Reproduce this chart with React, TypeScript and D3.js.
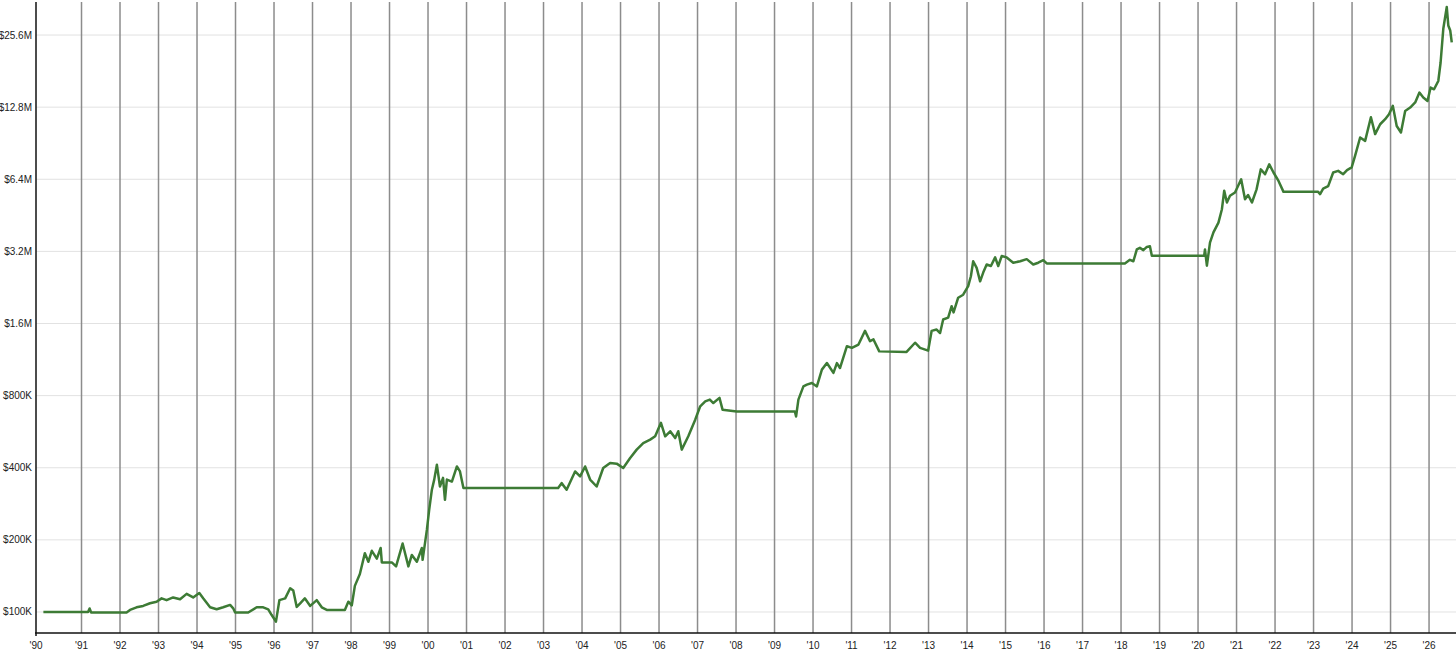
import * as React from 'react';
import * as d3 from 'd3';

// portfolio value in $K: [decimal year, value]
const equity: Array<[number, number]> = [
    [1990.01, 100], [1991.17, 100], [1991.21, 103.4], [1991.25, 99.5], [1992.17, 99.5],
    [1992.26, 102], [1992.43, 104.6], [1992.6, 106], [1992.78, 108.7], [1992.95, 110.4],
    [1993.08, 114], [1993.21, 112], [1993.38, 115], [1993.56, 113], [1993.73, 119],
    [1993.9, 115], [1994.06, 120], [1994.16, 114], [1994.34, 104.6], [1994.51, 102.6],
    [1994.68, 104.6], [1994.86, 107], [1994.94, 103.6], [1994.99, 99.5], [1995.33, 99.5],
    [1995.55, 104.6], [1995.72, 104.6], [1995.85, 102.6], [1995.94, 97.1], [1996.05, 91.1],
    [1996.14, 112], [1996.29, 114], [1996.42, 125.6], [1996.5, 122.8], [1996.59, 105],
    [1996.68, 108.7], [1996.8, 114], [1996.94, 106], [1997.11, 112], [1997.24, 104.6],
    [1997.37, 102], [1997.84, 102], [1997.93, 110.4], [1998.02, 106.5], [1998.1, 128.5],
    [1998.23, 144], [1998.36, 176], [1998.45, 162], [1998.54, 180], [1998.67, 167],
    [1998.77, 185], [1998.8, 161], [1999.06, 161], [1999.17, 155], [1999.34, 193],
    [1999.49, 155], [1999.58, 173], [1999.71, 162], [1999.84, 185], [1999.86, 165],
    [1999.97, 220], [2000.03, 267], [2000.1, 324], [2000.16, 356], [2000.23, 412],
    [2000.31, 334], [2000.39, 363], [2000.44, 294], [2000.49, 357], [2000.62, 350],
    [2000.75, 405], [2000.83, 386], [2000.92, 329], [2003.38, 329], [2003.47, 345],
    [2003.6, 324], [2003.82, 386], [2003.95, 368], [2004.08, 405], [2004.21, 357],
    [2004.38, 334], [2004.55, 399], [2004.73, 419], [2004.9, 416], [2005.07, 399],
    [2005.25, 439], [2005.42, 476], [2005.59, 507], [2005.77, 524], [2005.9, 541],
    [2006.05, 616], [2006.16, 541], [2006.29, 568], [2006.42, 532], [2006.5, 568],
    [2006.59, 476], [2006.76, 541], [2006.94, 635], [2007.07, 722], [2007.2, 757],
    [2007.32, 770], [2007.41, 745], [2007.57, 783], [2007.65, 699], [2008.02, 687],
    [2009.53, 686], [2009.56, 655], [2009.62, 770], [2009.75, 874], [2009.84, 889],
    [2009.97, 903], [2010.1, 874], [2010.23, 1027], [2010.36, 1094], [2010.53, 995],
    [2010.62, 1094], [2010.7, 1043], [2010.88, 1286], [2011.01, 1266], [2011.18, 1307],
    [2011.35, 1490], [2011.48, 1350], [2011.57, 1373], [2011.72, 1224], [2012.43, 1218],
    [2012.65, 1330], [2012.78, 1266], [2012.99, 1233], [2013.08, 1490], [2013.21, 1510],
    [2013.3, 1460], [2013.38, 1663], [2013.51, 1693], [2013.6, 1890], [2013.65, 1780],
    [2013.77, 2050], [2013.9, 2110], [2014.03, 2290], [2014.1, 2520], [2014.16, 2910],
    [2014.25, 2730], [2014.34, 2400], [2014.42, 2610], [2014.51, 2820], [2014.62, 2780],
    [2014.73, 3020], [2014.81, 2780], [2014.9, 3060], [2015.03, 3020], [2015.2, 2870],
    [2015.38, 2910], [2015.55, 2970], [2015.72, 2820], [2015.85, 2870], [2015.98, 2940],
    [2016.07, 2850], [2018.1, 2850], [2018.23, 2950], [2018.32, 2910], [2018.41, 3260],
    [2018.49, 3310], [2018.58, 3240], [2018.67, 3340], [2018.75, 3360], [2018.8, 3070],
    [2020.16, 3070], [2020.18, 3260], [2020.23, 2790], [2020.31, 3480], [2020.4, 3840],
    [2020.53, 4220], [2020.62, 4800], [2020.68, 5730], [2020.75, 5120], [2020.83, 5460],
    [2020.96, 5640], [2021.12, 6400], [2021.22, 5280], [2021.3, 5500], [2021.4, 5120],
    [2021.52, 5810], [2021.63, 7040], [2021.74, 6720], [2021.85, 7390], [2021.96, 6830],
    [2022.09, 6300], [2022.22, 5670], [2023.12, 5670], [2023.17, 5550], [2023.25, 5850],
    [2023.38, 5990], [2023.51, 6830], [2023.64, 6940], [2023.77, 6720], [2023.87, 6990],
    [2023.99, 7170], [2024.08, 8030], [2024.21, 9560], [2024.34, 9260], [2024.49, 11610],
    [2024.6, 9880], [2024.73, 10860], [2024.86, 11400], [2024.96, 11960], [2025.06, 12960],
    [2025.16, 10680], [2025.27, 10030], [2025.38, 12340], [2025.51, 12750], [2025.64, 13390],
    [2025.75, 14730], [2025.85, 14040], [2025.96, 13590], [2026.04, 15450], [2026.13, 15200],
    [2026.24, 16460], [2026.3, 19660], [2026.37, 27180], [2026.46, 33500], [2026.5, 28070],
    [2026.55, 26740], [2026.59, 23870]
];

const yearTicks: number[] = d3.range(1990, 2027);
const valueTicks: number[] = [100e3, 200e3, 400e3, 800e3, 1.6e6, 3.2e6, 6.4e6, 12.8e6, 25.6e6];
const valueLabels: string[] = ['$100K', '$200K', '$400K', '$800K', '$1.6M', '$3.2M', '$6.4M', '$12.8M', '$25.6M'];

const W = 1456;
const H = 656;
const margin = { top: 0, right: 0, bottom: 23, left: 36 };

export default function App() {
    const ref = React.useRef<SVGSVGElement>(null);

    React.useEffect(() => {
        const svg = d3.select(ref.current);
        svg.selectAll('*').remove();

        const x = d3.scaleLinear()
            .domain([1989.818, 2026.7])
            .range([margin.left, W - margin.right]);
        const y = d3.scaleLog()
            .domain([81.7e3, 35.85e6])
            .range([H - margin.bottom, margin.top]);

        // first tick sits on the axis origin
        const tickX = (yr: number) => yr === yearTicks[0] ? x.range()[0] : x(yr);

        // horizontal grid
        svg.append('g').selectAll('line')
            .data(valueTicks)
            .enter().append('line')
            .attr('x1', margin.left).attr('x2', W)
            .attr('y1', d => y(d)).attr('y2', d => y(d))
            .style('stroke', '#e2e2e2')
            .style('stroke-width', 1);

        // vertical year lines
        svg.append('g').selectAll('line')
            .data(yearTicks.slice(1))
            .enter().append('line')
            .attr('x1', d => tickX(d)).attr('x2', d => tickX(d))
            .attr('y1', 2).attr('y2', H - margin.bottom)
            .style('stroke', '#8c8c8c')
            .style('stroke-width', 1.5);

        // axes
        svg.append('line')
            .attr('x1', margin.left).attr('x2', margin.left)
            .attr('y1', 2).attr('y2', H - margin.bottom + 3)
            .style('stroke', '#111').style('stroke-width', 1.5);
        svg.append('line')
            .attr('x1', margin.left - 1).attr('x2', W)
            .attr('y1', H - margin.bottom).attr('y2', H - margin.bottom)
            .style('stroke', '#111').style('stroke-width', 1.5);

        const line = d3.line<[number, number]>()
            .x(d => x(d[0]))
            .y(d => y(d[1] * 1000));

        svg.append('path')
            .datum(equity)
            .attr('d', line)
            .style('fill', 'none')
            .style('stroke', '#3d7b35')
            .style('stroke-width', 2.5)
            .style('stroke-linejoin', 'round');

        // labels
        svg.append('g').selectAll('text')
            .data(valueTicks)
            .enter().append('text')
            .attr('x', margin.left - 4)
            .attr('y', d => y(d))
            .attr('dy', '0.35em')
            .attr('text-anchor', 'end')
            .style('font-family', '"Liberation Sans", Arial, sans-serif')
            .style('font-size', '10px')
            .style('fill', '#222')
            .text((d, i) => valueLabels[i]);

        svg.append('g').selectAll('text')
            .data(yearTicks)
            .enter().append('text')
            .attr('x', d => tickX(d))
            .attr('y', H - margin.bottom + 12)
            .attr('dy', '0.35em')
            .attr('text-anchor', 'middle')
            .style('font-family', '"Liberation Sans", Arial, sans-serif')
            .style('font-size', '10px')
            .style('fill', '#222')
            .text(d => '\'' + String(d % 100).padStart(2, '0'));
    }, []);

    return (
        <svg ref={ref} width={W} height={H}
            style={{ position: 'absolute', left: 0, top: 0, background: '#fff' }} />
    );
}
